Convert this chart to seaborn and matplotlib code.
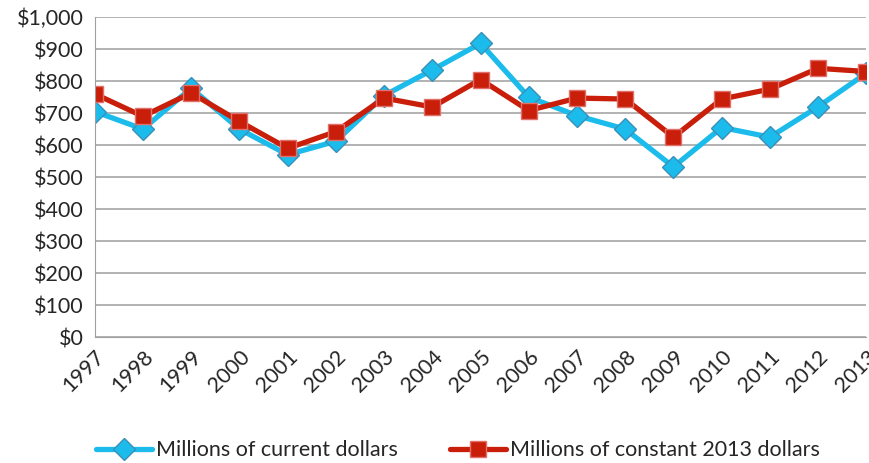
import pandas as pd
import numpy as np
import matplotlib.pyplot as plt
import seaborn as sns
from matplotlib.ticker import FuncFormatter

# Valores
years = list(range(1997, 2014))
current_dollars = [705, 650, 778, 650, 570, 612, 755, 835, 918, 750, 692, 650, 532, 655, 625, 720, 825]
constant_2013 = [760, 690, 763, 674, 590, 642, 747, 719, 805, 708, 747, 744, 625, 744, 775, 840, 830]

df = pd.DataFrame({
    'year': years * 2,
    'value': current_dollars + constant_2013,
    'series': ['Millions of current dollars'] * len(years) + ['Millions of constant 2013 dollars'] * len(years),
})

sns.set_style('white')
plt.rcParams['font.family'] = ['Lato', 'DejaVu Sans']

fig, ax = plt.subplots(figsize=(8.69, 4.63), dpi=100)
fig.subplots_adjust(left=0.109, right=0.997, top=0.963, bottom=0.272)

palette = {'Millions of current dollars': '#1BBCEB', 'Millions of constant 2013 dollars': '#C81E0A'}
sns.lineplot(data=df, x='year', y='value', hue='series', style='series', palette=palette,
             markers={'Millions of current dollars': 'D', 'Millions of constant 2013 dollars': 's'},
             dashes=False, linewidth=3.8, markersize=11, ax=ax, legend=False)

# bordes de marcadores
lines = ax.get_lines()
lines[0].set_markeredgecolor('#3A8FB8')
lines[0].set_markeredgewidth(1.0)
lines[1].set_markeredgecolor('#E2706A')
lines[1].set_markeredgewidth(1.0)

ax.set_xlim(1997, 2013)
ax.set_ylim(0, 1000)
ax.set_yticks(np.arange(0, 1001, 100))
ax.yaxis.set_major_formatter(FuncFormatter(lambda v, p: '${:,.0f}'.format(v)))
ax.set_xticks(years)
ax.set_xticklabels([str(y) for y in years], rotation=45, ha='right', rotation_mode='anchor')
ax.tick_params(axis='both', labelsize=15.5, length=5, color='#A0A0A0', direction='out')
ax.tick_params(axis='x', pad=2)
ax.tick_params(axis='y', pad=3)
ax.grid(axis='y', color='#A6A6A6', linewidth=1.2)
ax.set_axisbelow(True)
for s in ['top', 'right']:
    ax.spines[s].set_visible(False)
ax.spines['left'].set_color('#A0A0A0')
ax.spines['bottom'].set_color('#A0A0A0')
ax.set_xlabel('')
ax.set_ylabel('')

handles = [
    plt.Line2D([], [], color='#1BBCEB', lw=3.8, marker='D', markersize=11,
               markeredgecolor='#3A8FB8', markeredgewidth=1.0),
    plt.Line2D([], [], color='#C81E0A', lw=3.8, marker='s', markersize=11,
               markeredgecolor='#E2706A', markeredgewidth=1.0),
]
fig.legend(handles, ['Millions of current dollars', 'Millions of constant 2013 dollars'],
           loc='center', bbox_to_anchor=(0.527, 0.028), ncol=2, frameon=False,
           fontsize=15.5, handlelength=2.6, handletextpad=0.2, columnspacing=2.4,
           borderpad=0)

plt.savefig('out.png', dpi=100)
